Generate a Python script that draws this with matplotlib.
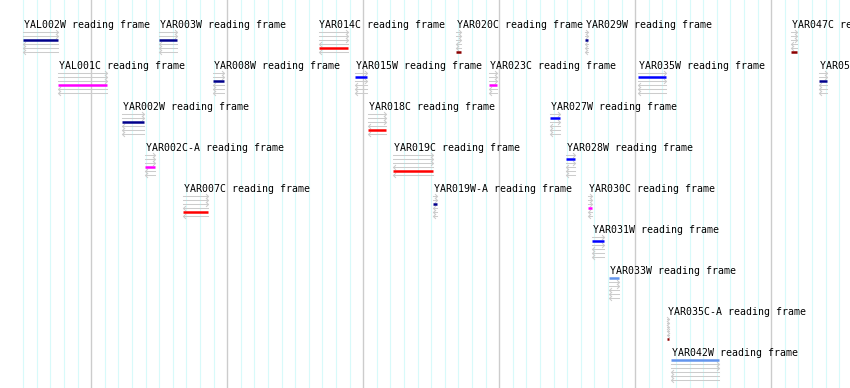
import matplotlib
matplotlib.use("Agg")
import matplotlib.pyplot as plt
from matplotlib.path import Path

# Genes in view (chromosome I), positions in bp
genes = ["YAL002W", "YAL001C", "YAR002W", "YAR002C-A", "YAR003W", "YAR007C",
         "YAR008W", "YAR014C", "YAR015W", "YAR018C", "YAR019C", "YAR019W-A",
         "YAR020C", "YAR023C", "YAR027W", "YAR028W", "YAR029W", "YAR030C",
         "YAR031W", "YAR033W", "YAR035W", "YAR035C-A", "YAR042W", "YAR047C",
         "YAR050W"]
starts = [143707, 147594, 152257, 153993, 155005, 156754,
          158966, 166720, 169370, 170390, 172210, 175130,
          176860, 179280, 183770, 184890, 186320, 186510,
          186840, 188110, 190190, 192340, 192620, 201480,
          203540]
ends = [147531, 151166, 153877, 154730, 156285, 158619,
        159792, 168900, 170300, 171700, 175140, 175440,
        177180, 179820, 184470, 185600, 186550, 186840,
        187730, 188810, 192260, 192500, 196190, 201870,
        204130]
# reading frame: +1,+2,+3 forward, -1,-2,-3 reverse
frames = [3, -1, 3, -1, 3, -2,
          3, -2, 2, -2, -2, 3,
          -3, -1, 2, 2, 3, -1,
          2, 1, 2, -3, 1, -3,
          3]
lanes = [0, 1, 2, 3, 0, 4,
         1, 0, 1, 2, 3, 4,
         0, 1, 2, 3, 0, 4,
         5, 6, 1, 7, 8, 0,
         1]

view_start, view_end = 143300, 205800
frame_order = [1, 2, 3, -1, -2, -3]
frame_colors = {1: "#6495ed", 2: "#0000ff", 3: "#00008b",
                -1: "#ff00ff", -2: "#ff0000", -3: "#8b0000"}

fig = plt.figure(figsize=(8.5, 3.88), dpi=100)
ax = fig.add_axes([0, 0, 1, 1])
ax.set_xlim(view_start, view_end)
ax.set_ylim(388, 0)
ax.axis("off")

# grid: thin cyan every kb, grey every 10 kb
for g in range(145000, view_end, 1000):
    if g % 10000 == 0:
        ax.axvline(g, color="#cccccc", lw=1.0, zorder=0)
    else:
        ax.axvline(g, color="#d8fafa", lw=0.8, zorder=0)

right_head = Path([(-1, 1), (0, 0), (-1, -1)], [Path.MOVETO, Path.LINETO, Path.LINETO])
left_head = Path([(1, 1), (0, 0), (1, -1)], [Path.MOVETO, Path.LINETO, Path.LINETO])

lane_gap = 41
base0 = 28.3
for name, s, e, fr, ln in zip(genes, starts, ends, frames, lanes):
    s = max(s, 145000)
    base = base0 + ln * lane_gap
    ax.text(s + 70, base, f"{name} reading frame", fontsize=7.1,
            family="DejaVu Sans Mono", va="baseline", ha="left", zorder=5)
    for i, f in enumerate(frame_order):
        y = base + 3.7 + 4 * i
        if f == fr:
            ax.plot([s, e], [y, y], color=frame_colors[f], lw=1.8,
                    solid_capstyle="butt", zorder=4)
        else:
            ax.plot([s, e], [y, y], color="#cccccc", lw=0.75, zorder=3)
            if f > 0:
                ax.plot([e], [y], marker=right_head, ms=3.5, mew=0.75,
                        color="#cccccc", fillstyle="none", zorder=3)
            else:
                ax.plot([s], [y], marker=left_head, ms=3.5, mew=0.75,
                        color="#cccccc", fillstyle="none", zorder=3)

fig.savefig("out.png", dpi=100)
